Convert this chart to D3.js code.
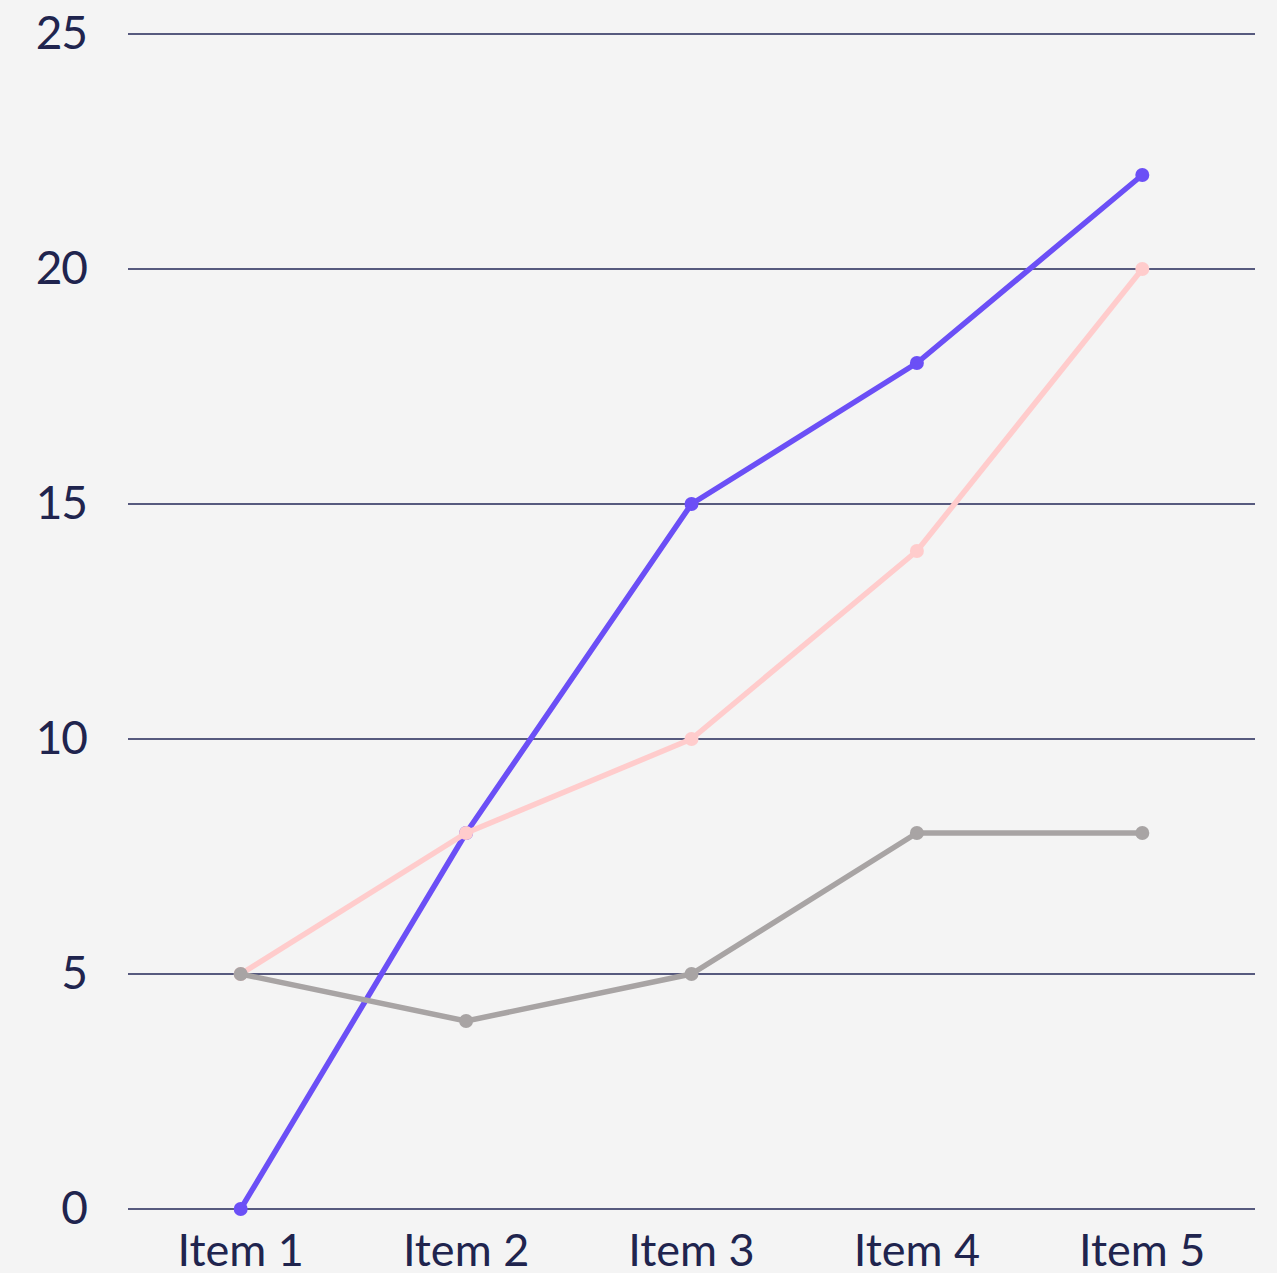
<!DOCTYPE html>
<html>
<head>
<meta charset="utf-8">
<script src="https://cdn.jsdelivr.net/npm/d3@7"></script>
<style>
  html, body { margin: 0; padding: 0; background: #f4f4f4; }
  #chart { width: 1277px; height: 1273px; }
  text { font-family: Lato, "Open Sans", sans-serif; fill: #20244e; }
</style>
</head>
<body>
<div id="chart"></div>
<script>
// data
var items = ['Item 1', 'Item 2', 'Item 3', 'Item 4', 'Item 5'];
var yTicks = [0, 5, 10, 15, 20, 25];
var purpleValues = [0, 8, 15, 18, 22];
var pinkValues = [5, 8, 10, 14, 20];
var grayValues = [5, 4, 5, 8, 8];

var series = [
    { name: 'purple', values: purpleValues, color: '#6b4ff6' },
    { name: 'pink', values: pinkValues, color: '#ffcccc' },
    { name: 'gray', values: grayValues, color: '#a8a4a4' }
];

// svg size
var chartWidth = 1277;
var chartHeight = 1273;

var svg = d3.select('#chart')
    .append('svg')
        .attr('width', chartWidth)
        .attr('height', chartHeight)
;

svg.append('rect')
    .attr('width', chartWidth)
    .attr('height', chartHeight)
    .attr('fill', '#f4f4f4');

var x = d3.scalePoint()
    .domain(items)
    .range([128, 1255])
    .padding(0.5)
;

var y = d3.scaleLinear()
    .domain([0, 25])
    .range([1209, 34])
;

// grid lines
svg.append('g')
    .selectAll('line')
    .data(yTicks)
    .enter().append('line')
        .attr('x1', 128)
        .attr('x2', 1255)
        .attr('y1', function(d) { return y(d) })
        .attr('y2', function(d) { return y(d) })
        .attr('stroke', '#232757')
        .attr('stroke-width', 1.5)
;

// y tick labels
svg.append('g')
    .selectAll('text')
    .data(yTicks)
    .enter().append('text')
        .attr('x', 87)
        .attr('y', function(d) { return y(d) + 15 })
        .attr('text-anchor', 'end')
        .style('font-size', '46px')
        .style('letter-spacing', '-1px')
        .text(function(d) { return d })
;

// x labels
svg.append('g')
    .selectAll('text')
    .data(items)
    .enter().append('text')
        .attr('x', function(d) { return x(d) })
        .attr('y', 1266)
        .attr('text-anchor', 'middle')
        .style('font-size', '45px')
        .text(function(d) { return d })
;

var line = d3.line()
    .x(function(d, i) { return x(items[i]) })
    .y(function(d) { return y(d) })
;

series.forEach(function(s) {
    var g = svg.append('g').attr('class', 'series-' + s.name);
    g.append('path')
        .datum(s.values)
        .attr('d', line)
        .attr('fill', 'none')
        .attr('stroke', s.color)
        .attr('stroke-width', 5.5)
        .attr('stroke-linejoin', 'round')
    ;
    g.selectAll('circle')
        .data(s.values)
        .enter().append('circle')
            .attr('cx', function(d, i) { return x(items[i]) })
            .attr('cy', function(d) { return y(d) })
            .attr('r', 7)
            .attr('fill', s.color)
    ;
});
</script>
</body>
</html>
